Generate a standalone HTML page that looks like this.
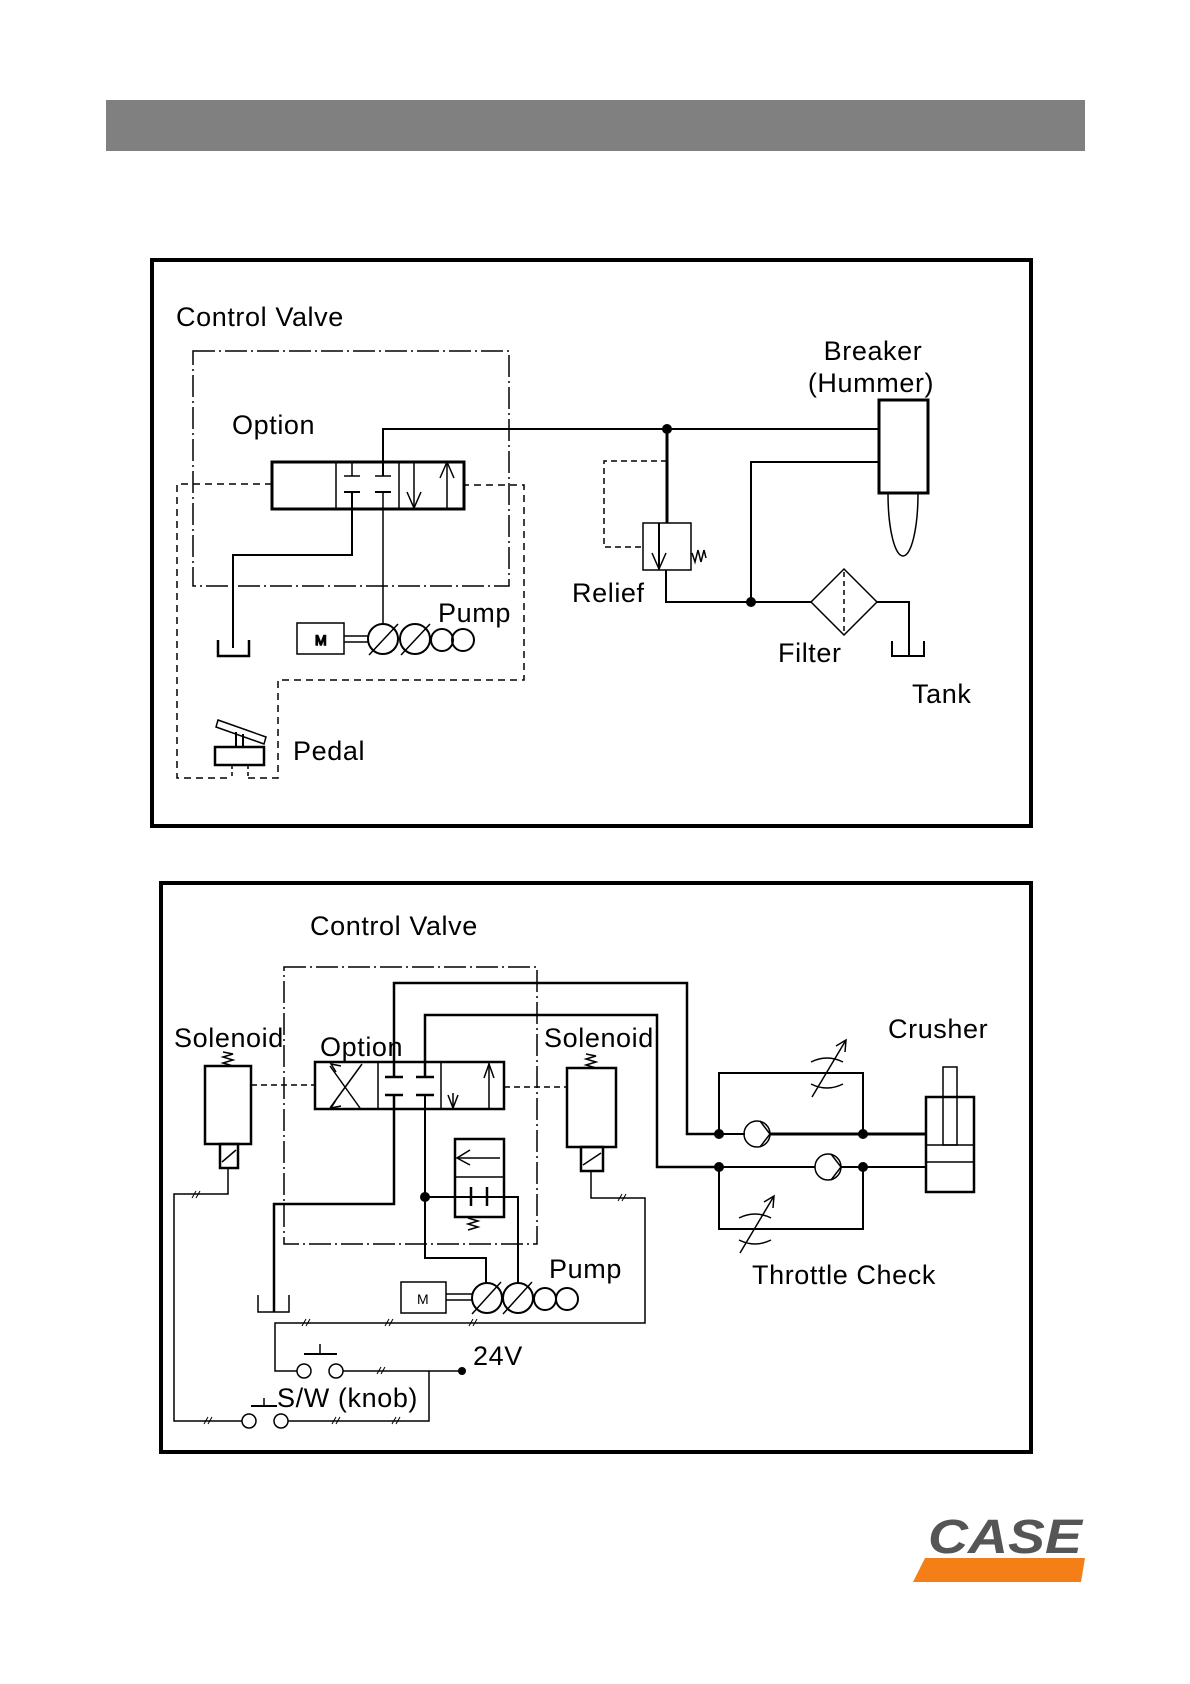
<!DOCTYPE html>
<html><head><meta charset="utf-8"><style>
html,body{margin:0;padding:0;background:#fff;}
svg{display:block}
text{font-family:"Liberation Sans",Arial,sans-serif;font-size:27px;letter-spacing:0.6px;fill:#000}
</style></head><body>
<svg width="1190" height="1684" viewBox="0 0 1190 1684" xmlns="http://www.w3.org/2000/svg">
<rect x="106" y="100" width="979" height="51" fill="#808080"/>
<!-- frames -->
<rect x="152" y="260" width="879" height="566" fill="none" stroke="#000" stroke-width="4"/>
<rect x="161" y="883" width="870" height="569" fill="none" stroke="#000" stroke-width="4"/>

<g fill="none" stroke="#000" stroke-width="1.5">
<!-- ===== TOP ===== -->
<rect x="193" y="351" width="316" height="235" stroke-dasharray="22,4,2,4"/>
<polyline points="272,484 177,484 177,778 232,778" stroke-dasharray="7,5"/>
<polyline points="248,778 278,778 278,680 524,680 524,485 464,485" stroke-dasharray="7,5"/>
<line x1="232" y1="765" x2="232" y2="778" stroke-dasharray="4,3"/>
<line x1="248" y1="765" x2="248" y2="778" stroke-dasharray="4,3"/>
<rect x="272" y="462" width="192" height="47" stroke-width="3"/>
<line x1="336" y1="462" x2="336" y2="509"/>
<line x1="399" y1="462" x2="399" y2="509"/>
<line x1="344" y1="476" x2="360" y2="476"/><line x1="375" y1="476" x2="391" y2="476"/>
<line x1="344" y1="492" x2="360" y2="492" stroke-width="2"/><line x1="375" y1="492" x2="391" y2="492" stroke-width="2"/>
<line x1="352" y1="476" x2="352" y2="462"/>
<line x1="414" y1="462" x2="414" y2="508"/><polyline points="407,492 414,508 421,492"/>
<line x1="447" y1="462" x2="447" y2="509"/><polyline points="440,478 447,462 454,478"/>
<polyline points="383,476 383,429 879,429" stroke-width="2"/>
<polyline points="352,492 352,555 233,555 233,648" stroke-width="2"/>
<polyline points="218,640 218,656 249,656 249,640" stroke-width="2.5"/>
<line x1="383" y1="492" x2="383" y2="625"/>
<rect x="297" y="623" width="47" height="31"/>
<text x="315" y="645" style="font-size:14px;letter-spacing:0">M</text>
<line x1="344" y1="636" x2="368" y2="636"/><line x1="344" y1="642" x2="368" y2="642"/>
<circle cx="383" cy="639" r="15" stroke-width="2"/><circle cx="415" cy="639" r="15" stroke-width="2"/>
<circle cx="442" cy="640" r="11" stroke-width="2"/><circle cx="463" cy="640" r="11" stroke-width="2"/>
<line x1="369" y1="655" x2="398" y2="624"/><line x1="401" y1="655" x2="430" y2="624"/>
<!-- pedal -->
<polygon points="218,720 266,737 264,744 216,727"/>
<line x1="236" y1="732" x2="236" y2="747" stroke-width="2"/><line x1="243" y1="734" x2="243" y2="747" stroke-width="2"/>
<rect x="215" y="747" width="49" height="18" stroke-width="2.5"/>
<!-- relief -->
<line x1="667" y1="429" x2="667" y2="523" stroke-width="3"/>
<polyline points="667,461 604,461 604,547 643,547" stroke-dasharray="6,4"/>
<rect x="643" y="523" width="48" height="47"/>
<line x1="659" y1="523" x2="659" y2="569" stroke-width="2"/><polyline points="652,553 659,569 666,553"/>
<polyline points="692,553 695,562 698,550 701,562 704,550 706,558"/>
<polyline points="666,570 666,602 811,602" stroke-width="2"/>
<polyline points="751,602 751,462 879,462" stroke-width="2"/>
<rect x="879" y="400" width="49" height="93" stroke-width="3"/>
<path d="M888,493 C888,530 895,556 903,556 C911,556 918,530 918,493"/>
<polygon points="844,569 877,602 844,635 811,602"/>
<line x1="844" y1="572" x2="844" y2="632" stroke-dasharray="5,4"/>
<polyline points="877,602 909,602 909,655" stroke-width="2"/>
<polyline points="892,641 892,656 924,656 924,641" stroke-width="2"/>
</g>
<g fill="#000">
<circle cx="667" cy="429" r="5"/><circle cx="751" cy="602" r="5"/>
</g>
<text x="176" y="326">Control Valve</text>
<text x="232" y="434">Option</text>
<text x="438" y="622">Pump</text>
<text x="293" y="760">Pedal</text>
<text x="572" y="602">Relief</text>
<text x="778" y="662">Filter</text>
<text x="912" y="703">Tank</text>
<text x="873" y="360" text-anchor="middle">Breaker</text>
<text x="871" y="392" text-anchor="middle">(Hummer)</text>

<!-- ===== BOTTOM ===== -->
<g fill="none" stroke="#000" stroke-width="1.5">
<rect x="284" y="967" width="253" height="277" stroke-dasharray="22,4,2,4"/>
<rect x="205" y="1066" width="46" height="78" stroke-width="2.5"/>
<rect x="220" y="1144" width="18" height="24" stroke-width="2.5"/>
<line x1="222" y1="1162" x2="236" y2="1150"/>
<polyline points="223,1052 233,1054 223,1057 233,1060 223,1063 233,1066"/>
<line x1="251" y1="1085" x2="315" y2="1085" stroke-dasharray="6,4"/>
<rect x="315" y="1062" width="189" height="47" stroke-width="2.5"/>
<line x1="378" y1="1062" x2="378" y2="1109"/><line x1="441" y1="1062" x2="441" y2="1109"/>
<line x1="330" y1="1066" x2="360" y2="1108"/><line x1="362" y1="1064" x2="330" y2="1108"/>
<polyline points="336,1072 331,1064 341,1066"/><polyline points="336,1100 331,1108 341,1106"/>
<line x1="385" y1="1077" x2="403" y2="1077" stroke-width="2.5"/><line x1="416" y1="1077" x2="434" y2="1077" stroke-width="2.5"/>
<line x1="385" y1="1095" x2="403" y2="1095" stroke-width="2.5"/><line x1="416" y1="1095" x2="434" y2="1095" stroke-width="2.5"/>
<line x1="453" y1="1093" x2="453" y2="1108"/><polyline points="448,1095 453,1108 458,1095"/>
<line x1="489" y1="1062" x2="489" y2="1109"/><polyline points="484,1078 489,1064 494,1078"/>
<polyline points="394,1077 394,983 687,983 687,1134 719,1134" stroke-width="2.5"/>
<polyline points="425,1077 425,1015 657,1015 657,1167 719,1167" stroke-width="2.5"/>
<polyline points="394,1095 394,1204 274,1204 274,1312" stroke-width="2.5"/>
<polyline points="258,1295 258,1312 289,1312 289,1295" stroke-width="1.5"/>
<polyline points="425,1095 425,1258 486,1258 486,1284" stroke-width="2"/>
<polyline points="425,1197 518,1197 518,1284" stroke-width="2"/>
<rect x="455" y="1139" width="49" height="78" stroke-width="2.5"/>
<line x1="455" y1="1177" x2="504" y2="1177"/>
<line x1="457" y1="1158" x2="500" y2="1158"/><polyline points="470,1150 457,1158 470,1165"/>
<line x1="471" y1="1187" x2="471" y2="1206" stroke-width="2.5"/><line x1="487" y1="1187" x2="487" y2="1206" stroke-width="2.5"/>
<polyline points="468,1218 478,1221 468,1224 478,1227 468,1230"/>
<rect x="401" y="1282" width="45" height="31"/>
<text x="417" y="1304" style="font-size:14px;letter-spacing:0" stroke="none" fill="#000">M</text>
<line x1="446" y1="1294" x2="472" y2="1294"/><line x1="446" y1="1300" x2="472" y2="1300"/>
<circle cx="487" cy="1298" r="15" stroke-width="2"/><circle cx="518" cy="1298" r="15" stroke-width="2"/>
<circle cx="545" cy="1299" r="11" stroke-width="2"/><circle cx="567" cy="1299" r="11" stroke-width="2"/>
<line x1="472" y1="1314" x2="501" y2="1282"/><line x1="503" y1="1314" x2="532" y2="1282"/>
<rect x="567" y="1068" width="49" height="79" stroke-width="2.5"/>
<rect x="581" y="1147" width="22" height="24" stroke-width="2.5"/>
<line x1="583" y1="1165" x2="601" y2="1153"/>
<polyline points="586,1054 596,1056 586,1059 596,1062 586,1065 596,1068"/>
<line x1="504" y1="1087" x2="567" y2="1087" stroke-dasharray="6,4"/>
<polyline points="228,1168 228,1194 174,1194 174,1421 242,1421"/>
<polyline points="288,1421 429,1421 429,1371"/>
<polyline points="591,1171 591,1198 645,1198 645,1323 275,1323 275,1371 297,1371" />
<line x1="343" y1="1371" x2="462" y2="1371"/>
<circle cx="304" cy="1371" r="7"/><circle cx="336" cy="1371" r="7"/>
<circle cx="249" cy="1421" r="7"/><circle cx="281" cy="1421" r="7"/>
<line x1="304" y1="1354" x2="337" y2="1354" stroke-width="2"/><line x1="320" y1="1344" x2="320" y2="1354"/>
<line x1="251" y1="1406" x2="277" y2="1406" stroke-width="2"/><line x1="264" y1="1398" x2="264" y2="1406"/>
<g stroke-width="1">
<path d="M192,1198 l4,-7 M196,1198 l4,-7"/>
<path d="M618,1201 l4,-7 M622,1201 l4,-7"/>
<path d="M302,1326 l4,-7 M306,1326 l4,-7"/>
<path d="M385,1326 l4,-7 M389,1326 l4,-7"/>
<path d="M469,1326 l4,-7 M473,1326 l4,-7"/>
<path d="M377,1374 l4,-7 M381,1374 l4,-7"/>
<path d="M204,1424 l4,-7 M208,1424 l4,-7"/>
<path d="M332,1424 l4,-7 M336,1424 l4,-7"/>
<path d="M392,1424 l4,-7 M396,1424 l4,-7"/>
</g>
<polyline points="719,1134 719,1073 863,1073 863,1134" stroke-width="2"/>
<line x1="719" y1="1134" x2="745" y2="1134" stroke-width="2"/>
<line x1="770" y1="1134" x2="926" y2="1134" stroke-width="3"/>
<circle cx="757" cy="1134" r="13"/><polyline points="760,1121 770,1134 760,1147"/>
<line x1="719" y1="1167" x2="815" y2="1167" stroke-width="2"/>
<line x1="841" y1="1167" x2="926" y2="1167" stroke-width="2"/>
<circle cx="828" cy="1167" r="13"/><polyline points="831,1154 841,1167 831,1180"/>
<polyline points="719,1167 719,1229 863,1229 863,1167" stroke-width="2"/>
<path d="M811,1062 q16,-8 32,0 M811,1084 q16,8 32,0"/>
<line x1="812" y1="1097" x2="846" y2="1040"/><polyline points="836,1046 846,1040 845,1052"/>
<path d="M739,1218 q16,-8 32,0 M739,1240 q16,8 32,0"/>
<line x1="740" y1="1253" x2="774" y2="1196"/><polyline points="764,1202 774,1196 773,1208"/>
<rect x="926" y="1097" width="48" height="95" stroke-width="2.5"/>
<rect x="943" y="1067" width="14" height="78"/>
<line x1="926" y1="1145" x2="974" y2="1145"/><line x1="926" y1="1162" x2="974" y2="1162"/>
</g>
<g fill="#000">
<circle cx="425" cy="1197" r="5"/><circle cx="462" cy="1371" r="4"/>
<circle cx="719" cy="1134" r="5"/><circle cx="863" cy="1134" r="5"/>
<circle cx="719" cy="1167" r="5"/><circle cx="863" cy="1167" r="5"/>
</g>
<text x="310" y="935">Control Valve</text>
<text x="174" y="1047">Solenoid</text>
<text x="320" y="1056">Option</text>
<text x="544" y="1047">Solenoid</text>
<text x="549" y="1278">Pump</text>
<text x="473" y="1365">24V</text>
<text x="277" y="1407">S/W (knob)</text>
<text x="888" y="1038">Crusher</text>
<text x="752" y="1284">Throttle Check</text>

<!-- logo -->
<polygon points="925,1558 1085,1558 1081,1582 913,1582" fill="#f57f17"/>
<text x="928" y="1553" textLength="154" lengthAdjust="spacingAndGlyphs" style="font-size:48px;font-weight:bold;font-style:italic;fill:#555;letter-spacing:0">CASE</text>
</svg>
</body></html>
